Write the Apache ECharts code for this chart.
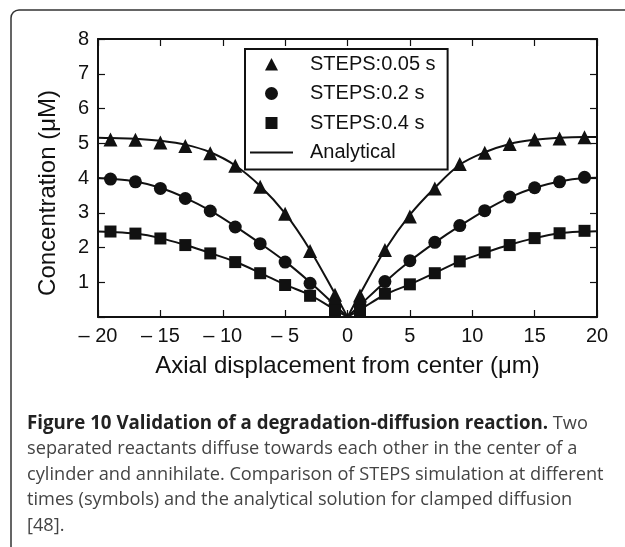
<!DOCTYPE html>
<html>
<head>
<meta charset="utf-8">
<script src="https://cdn.jsdelivr.net/npm/echarts@6/dist/echarts.min.js"></script>
<style>
  html, body { margin: 0; padding: 0; background: #fff; }
  #chart { width: 625px; height: 547px; }
</style>
</head>
<body>
<div id="chart"></div>
<script>
// sample positions (um) of STEPS points
const xPoints = [-19, -17, -15, -13, -11, -9, -7, -5, -3, -1, 1, 3, 5, 7, 9, 11, 13, 15, 17, 19]
const steps005 = [5.11, 5.10, 5.02, 4.92, 4.71, 4.35, 3.75, 2.97, 1.90, 0.64, 0.62, 1.93, 2.89, 3.70, 4.40, 4.73, 4.98, 5.11, 5.14, 5.17]
const steps02 = [3.97, 3.89, 3.70, 3.41, 3.05, 2.59, 2.11, 1.58, 0.97, 0.35, 0.35, 1.02, 1.62, 2.15, 2.63, 3.06, 3.45, 3.72, 3.89, 4.02]
const steps04 = [2.46, 2.40, 2.26, 2.07, 1.83, 1.58, 1.26, 0.92, 0.61, 0.2, 0.2, 0.67, 0.94, 1.26, 1.60, 1.86, 2.07, 2.27, 2.41, 2.48]

// analytical curve, read at these positions (left and right halves)
const xLeft = [-20, -19, -17, -15, -13, -11, -9, -7, -5, -3, -1, 0]
const xRight = [0, 1, 3, 5, 7, 9, 11, 13, 15, 17, 19, 20]
const anal005L = [5.16, 5.15, 5.13, 5.07, 4.96, 4.74, 4.36, 3.77, 2.98, 1.93, 0.66, 0]
const anal005R = [0, 0.66, 1.93, 2.94, 3.72, 4.38, 4.74, 4.98, 5.10, 5.16, 5.18, 5.18]
const anal02L = [4.0, 3.98, 3.90, 3.72, 3.43, 3.06, 2.61, 2.12, 1.60, 1.00, 0.34, 0]
const anal02R = [0, 0.34, 1.01, 1.61, 2.14, 2.62, 3.06, 3.44, 3.72, 3.90, 4.0, 4.01]
const anal04L = [2.46, 2.45, 2.40, 2.27, 2.07, 1.84, 1.59, 1.27, 0.93, 0.63, 0.21, 0]
const anal04R = [0, 0.21, 0.64, 0.94, 1.27, 1.60, 1.85, 2.08, 2.27, 2.41, 2.46, 2.47]

const captionLines = [
  'separated reactants diffuse towards each other in the center of a',
  'cylinder and annihilate. Comparison of STEPS simulation at different',
  'times (symbols) and the analytical solution for clamped diffusion',
  '[48].'
]

const pairs = (xs, ys) => xs.map((x, i) => [x, ys[i]])
const font = 'Liberation Sans'
const ink = '#111'

// legend icons: the two leading moves pin the box to 43x14 so shapes keep their size
const iconTri = 'path://M0,0M43,14M15,13.5L21.5,1L28,13.5Z'
const iconDot = 'path://M0,0M43,14M15,7A6.5,6.5,0,1,1,28,7A6.5,6.5,0,1,1,15,7Z'
const iconSq = 'path://M0,0M43,14M15.5,1H27.5V13H15.5Z'
const iconLine = 'path://M0,0M43,14M0,6H43V8H0Z'

const scatter = (name, symbol, size, ys) => ({
  name: name,
  type: 'scatter',
  symbol: symbol,
  symbolSize: size,
  itemStyle: { color: ink, opacity: 1 },
  data: pairs(xPoints, ys),
  z: 3
})
const analytical = (xs, ys) => ({
  name: 'Analytical',
  type: 'line',
  smooth: 0.35,
  symbol: 'none',
  color: ink,
  itemStyle: { color: ink },
  lineStyle: { color: ink, width: 2 },
  data: pairs(xs, ys),
  z: 2
})

const frameAxis = {
  axisLine: { onZero: false, lineStyle: { color: ink, width: 2 } },
  axisTick: { inside: true, length: 7, lineStyle: { color: ink, width: 1.2 } },
  splitLine: { show: false }
}

const chart = echarts.init(document.getElementById('chart'))
const option = {
  backgroundColor: '#fff',
  animation: false,
  grid: { left: 98, right: 28, top: 39, bottom: 230 },
  legend: {
    orient: 'vertical',
    left: 245,
    top: 49,
    padding: [5, 12, 7, 5],
    itemGap: 9.5,
    itemWidth: 43,
    itemHeight: 14,
    borderColor: ink,
    borderWidth: 2,
    backgroundColor: '#fff',
    textStyle: { fontFamily: font, fontSize: 20, color: ink, lineHeight: 20, padding: [0, 0, 0, 12] },
    data: [
      { name: 'STEPS:0.05 s', icon: iconTri, itemStyle: { color: ink } },
      { name: 'STEPS:0.2 s', icon: iconDot, itemStyle: { color: ink } },
      { name: 'STEPS:0.4 s', icon: iconSq, itemStyle: { color: ink } },
      { name: 'Analytical', icon: iconLine, itemStyle: { color: ink } }
    ]
  },
  xAxis: [
    Object.assign({
      type: 'value', min: -20, max: 20, interval: 5,
      name: 'Axial displacement from center (\u03bcm)',
      nameLocation: 'middle', nameGap: 37,
      nameTextStyle: { fontFamily: font, fontSize: 24, color: ink },
      axisLabel: {
        fontFamily: font, fontSize: 20, color: ink, margin: 9,
        formatter: v => (v < 0 ? '\u2013 ' + Math.abs(v) : '' + v)
      }
    }, frameAxis),
    Object.assign({
      type: 'value', position: 'top', min: -20, max: 20, interval: 5,
      axisLabel: { show: false }
    }, frameAxis)
  ],
  yAxis: [
    Object.assign({
      type: 'value', min: 0, max: 8, interval: 1,
      name: 'Concentration (\u03bcM)',
      nameLocation: 'middle', nameGap: 38,
      nameTextStyle: { fontFamily: font, fontSize: 24, color: ink, padding: [0, 30, 0, 0] },
      axisLabel: {
        fontFamily: font, fontSize: 20, color: ink, margin: 9,
        formatter: v => (v === 0 ? '' : '' + v)
      }
    }, frameAxis),
    Object.assign({
      type: 'value', position: 'right', min: 0, max: 8, interval: 1,
      axisLabel: { show: false }
    }, frameAxis)
  ],
  series: [
    scatter('STEPS:0.05 s', 'triangle', 14, steps005),
    scatter('STEPS:0.2 s', 'circle', 13, steps02),
    scatter('STEPS:0.4 s', 'rect', 12, steps04),
    analytical(xLeft, anal005L),
    analytical(xRight, anal005R),
    analytical(xLeft, anal02L),
    analytical(xRight, anal02R),
    analytical(xLeft, anal04L),
    analytical(xRight, anal04R)
  ],
  graphic: [
    {
      type: 'rect',
      shape: { x: 11, y: 10, width: 700, height: 700, r: [8, 0, 0, 0] },
      style: { fill: 'none', stroke: '#333', lineWidth: 1.5 },
      silent: true
    },
    {
      type: 'text', left: 27, top: 414,
      style: {
        text: '{b|Figure 10 Validation of a degradation-diffusion reaction.}{n| Two}',
        rich: {
          b: { fontFamily: 'Open Sans', fontWeight: 'bold', fontSize: 18.7, fill: '#222' },
          n: { fontFamily: 'Open Sans', fontSize: 18.2, fill: '#444' }
        }
      }
    }
  ].concat(captionLines.map((t, i) => ({
    type: 'text', left: 27, top: 439.7 + i * 25.7,
    style: { text: t, fontFamily: 'Open Sans', fontSize: 18.2, fill: '#444' }
  })))
}
chart.setOption(option)
</script>
</body>
</html>
